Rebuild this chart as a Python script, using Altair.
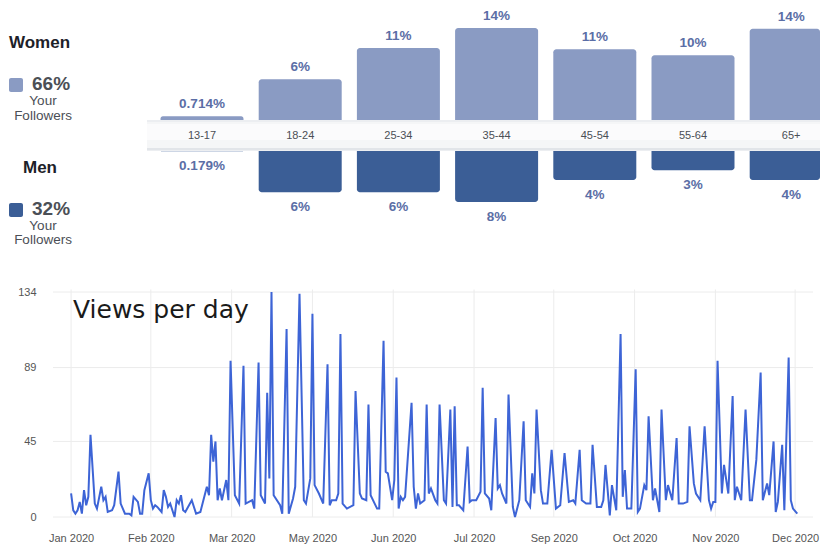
import json
import altair as alt
import pandas as pd

# ---------------- top panel: followers by age & gender ----------------
ages = ["13-17", "18-24", "25-34", "35-44", "45-54", "55-64", "65+"]
women_pct = [0.714, 6.3, 11.0, 14.0, 10.8, 9.9, 13.9]
men_pct = [0.179, 6.5, 6.5, 8.0, 4.6, 3.1, 4.6]
women_labels = ["0.714%", "6%", "11%", "14%", "11%", "10%", "14%"]
men_labels = ["0.179%", "6%", "6%", "8%", "4%", "3%", "4%"]
women_total = "66%"
men_total = "32%"

# ---------------- bottom panel: views per day (day index, views) ----------------
views_jan_feb = [(0, 14), (1, 4), (2, 2), (3, 4), (4, 9), (5, 2), (6, 16), (7, 7), (8, 12), (9, 49),
                 (11, 8), (12, 5), (14, 18), (15, 10), (16, 12), (17, 3), (19, 4), (20, 7), (22, 27),
                 (23, 8), (25, 2), (27, 2), (28, 1), (29, 12), (31, 9), (32, 2), (33, 2), (34, 16),
                 (36, 26), (37, 10), (38, 5), (39, 7), (40, 6), (42, 3), (43, 16), (44, 12), (45, 6),
                 (46, 8), (48, 0), (49, 10), (50, 8), (51, 13), (52, 4), (53, 3), (56, 10), (58, 2),
                 (60, 3), (63, 18), (64, 13), (65, 49), (66, 33), (67, 45), (68, 10), (69, 17), (70, 10),
                 (72, 22), (73, 10)]
views_mar_may = [(74, 93), (76, 13), (78, 8), (80, 90), (81, 8), (84, 10), (85, 5), (87, 92), (88, 13),
                 (90, 8), (91, 74), (92, 23), (93, 134), (94, 13), (97, 7), (98, 2), (100, 112), (101, 2),
                 (103, 11), (104, 18), (106, 133), (108, 10), (109, 8), (111, 23), (112, 121), (113, 19),
                 (115, 14), (117, 8), (119, 91), (120, 7), (121, 10), (123, 10), (124, 14), (125, 109),
                 (126, 8), (128, 5), (131, 7), (132, 75), (134, 14), (135, 11), (137, 10), (138, 67),
                 (139, 13), (142, 5), (143, 5), (145, 105), (146, 27), (147, 26), (149, 10)]
views_jun_aug = [(150, 22), (151, 83), (152, 5), (153, 12), (154, 10), (155, 12), (158, 68), (159, 18),
                 (160, 5), (161, 14), (162, 8), (164, 10), (165, 67), (166, 14), (167, 17), (169, 10),
                 (170, 8), (171, 67), (173, 10), (174, 8), (176, 64), (177, 6), (178, 66), (179, 7),
                 (180, 7), (182, 4), (184, 42), (185, 9), (186, 10), (188, 10), (190, 15), (191, 77),
                 (192, 14), (194, 11), (195, 4), (197, 59), (198, 17), (199, 19), (200, 14), (202, 8),
                 (203, 73), (205, 6), (206, 0), (208, 10), (210, 57), (211, 10), (213, 6), (214, 26),
                 (215, 14), (216, 64), (218, 16), (219, 8), (221, 8), (223, 40)]
views_sep_dec = [(225, 5), (227, 7), (229, 38), (231, 9), (233, 10), (234, 8), (236, 40), (237, 10),
                 (239, 8), (241, 8), (242, 43), (244, 6), (246, 6), (247, 10), (248, 31), (250, 1),
                 (251, 19), (253, 4), (255, 109), (256, 12), (257, 28), (258, 5), (260, 5), (262, 88),
                 (263, 3), (264, 5), (266, 19), (267, 16), (268, 60), (270, 10), (271, 17), (273, 3),
                 (274, 64), (276, 10), (277, 19), (279, 10), (281, 47), (282, 8), (284, 8), (286, 9),
                 (287, 54), (289, 20), (290, 14), (292, 10), (294, 54), (296, 10), (297, 5), (298, 9),
                 (299, 9), (300, 93), (302, 14), (303, 31), (305, 14), (307, 72), (308, 10), (309, 18),
                 (311, 10), (313, 64), (315, 10), (316, 10), (318, 34), (320, 86), (321, 10), (323, 20),
                 (324, 13), (326, 45), (327, 3), (328, 9), (330, 43), (331, 4), (333, 95), (334, 10),
                 (335, 5), (337, 2)]

tick_days = [0, 37, 74.5, 112, 149.5, 187, 224, 261.5, 299, 336]
tick_labels = ["Jan 2020", "Feb 2020", "Mar 2020", "May 2020", "Jun 2020",
               "Jul 2020", "Sep 2020", "Oct 2020", "Nov 2020", "Dec 2020"]
y_ticks = [0, 45, 89, 134]

# ---------------- styles ----------------
FONT = "Liberation Sans"
WOMEN = "#8a9bc3"
MEN = "#3b5e96"
VAL = "#5b6ea6"
DARK = "#4b4f56"
LINE = "#3d64d6"
GRID = "#ececec"
W = 812
H = 537
HALF_BAR = 0.4226  # half of the bar width, in category steps

df_bar = pd.DataFrame({"age": ages, "idx": list(range(len(ages))), "women": women_pct,
                       "men": men_pct, "wl": women_labels, "ml": men_labels})
df_line = pd.DataFrame(views_jan_feb + views_mar_may + views_jun_aug + views_sep_dec,
                       columns=["day", "views"])
df_xt = pd.DataFrame({"day": tick_days})
df_yt = pd.DataFrame({"views": y_ticks})
df_one = pd.DataFrame({"k": [0]})


def note(txt, x, y, size, weight="normal", align="left", color=DARK, font=FONT, baseline="middle"):
    return alt.Chart(df_one).mark_text(
        text=txt, align=align, baseline=baseline, fontSize=size, fontWeight=weight,
        color=color, font=font
    ).encode(x=alt.value(x), y=alt.value(y))


def swatch(x, y, color):
    return alt.Chart(df_one).mark_rect(color=color, cornerRadius=2).encode(
        x=alt.value(x), x2=alt.value(x + 14), y=alt.value(y), y2=alt.value(y + 14))


def block(x1, x2, y1, y2, color):
    return alt.Chart(df_one).mark_rect(color=color).encode(
        x=alt.value(x1), x2=alt.value(x2), y=alt.value(y1), y2=alt.value(y2))


bx = alt.Scale(domain=[-1.9756, 6.2933], range=[0, W], clamp=True, nice=False, zero=False)
wscale = alt.Scale(domain=[0, 16.86], range=[112, 0], nice=False)
mscale = alt.Scale(domain=[0, 10], range=[141, 206], nice=False)
wy = alt.Y("women:Q", axis=None, scale=wscale)
my = alt.Y("men:Q", axis=None, scale=mscale)
xc = alt.X("idx:Q", axis=None, scale=bx)


def bars(ycode, color, corners):
    return alt.Chart(df_bar).transform_calculate(
        lo="datum.idx - %f" % HALF_BAR, hi="datum.idx + %f" % HALF_BAR
    ).mark_bar(color=color, clip=True, **corners).encode(
        x=alt.X("lo:Q", axis=None, scale=bx), x2="hi:Q", y=ycode, y2=alt.Y2Datum(0))


women_bars = bars(wy, WOMEN, dict(cornerRadiusTopLeft=3, cornerRadiusTopRight=3))
men_bars = bars(my, MEN, dict(cornerRadiusBottomLeft=3, cornerRadiusBottomRight=3))

women_text = alt.Chart(df_bar).mark_text(
    dy=-12, font=FONT, fontSize=13.5, fontWeight="bold", color=VAL, baseline="middle"
).encode(x=xc, y=wy, text="wl:N")
men_text = alt.Chart(df_bar).mark_text(
    dy=15, font=FONT, fontSize=13.5, fontWeight="bold", color=VAL, baseline="middle"
).encode(x=xc, y=my, text="ml:N")

# the grey strip that carries the age labels
band_parts = [
    block(139, W, 111, 142, "#eceef1"),
    block(139, W, 113, 139, "#f5f6f7"),
    block(139, W, 115, 131, "#fbfbfc"),
    block(139, W, 139, 141, "#e2e5e9"),
]

age_text = alt.Chart(df_bar).mark_text(
    font=FONT, fontSize=11, color=DARK, baseline="middle"
).encode(x=xc, y=alt.value(127), text="age:N")

# ---------------- line chart ----------------
label_expr = "{}[indexof({}, datum.value)]".format(json.dumps(tick_labels), json.dumps(tick_days))
xs = alt.Scale(domain=[-8.4, 344.3], range=[45, 805], nice=False, zero=False)
ys = alt.Scale(domain=[0, 134], range=[508, 283], nice=False)

vgrid = alt.Chart(df_xt).mark_rule(color=GRID, strokeWidth=1).encode(
    x=alt.X("day:Q", scale=xs, axis=None),
    y=alt.YDatum(0, scale=ys, axis=None), y2=alt.Y2Datum(135.5))
hgrid = alt.Chart(df_yt).mark_rule(color=GRID, strokeWidth=1).encode(
    y=alt.Y("views:Q", scale=ys, axis=None),
    x=alt.XDatum(-8.4, scale=xs, axis=None), x2=alt.X2Datum(344.3))

line = alt.Chart(df_line).mark_line(color=LINE, strokeWidth=2).encode(
    x=alt.X("day:Q", scale=xs,
            axis=alt.Axis(orient="bottom", offset=-(H - 508), values=tick_days, labelExpr=label_expr,
                          grid=False, domain=False, ticks=False, labelPadding=15,
                          labelFontSize=11, labelColor="#555555", labelFont=FONT,
                          labelOverlap=False, labelFlush=False, title=None)),
    y=alt.Y("views:Q", scale=ys,
            axis=alt.Axis(orient="left", offset=-45, values=y_ticks, grid=False, domain=False,
                          ticks=False, labelPadding=17, labelFontSize=11, labelColor="#555555",
                          labelFont=FONT, title=None)),
)

layers = [women_bars, women_text, men_bars, men_text] + band_parts + [
    age_text,
    note("Women", 1, 34, 17, "bold", color="#1d2129"),
    swatch(1, 69, WOMEN),
    note(women_total, 24, 75, 19, "bold"),
    note("Your", 35, 92, 13.5, align="center"),
    note("Followers", 35, 107, 13.5, align="center"),
    note("Men", 32, 159, 17, "bold", align="center", color="#1d2129"),
    swatch(1, 194, MEN),
    note(men_total, 24, 200, 19, "bold"),
    note("Your", 35, 217, 13.5, align="center"),
    note("Followers", 35, 231, 13.5, align="center"),
    vgrid, hgrid, line,
    note("Views per day", 65, 309, 25, color="#1a1a1a", font="DejaVu Sans", baseline="alphabetic"),
]

chart = alt.layer(*layers).resolve_scale(
    x="independent", y="independent"
).properties(width=W, height=H, padding=0).configure_view(stroke=None)

chart.save("out.html", embed_options={"renderer": "svg", "actions": False})
